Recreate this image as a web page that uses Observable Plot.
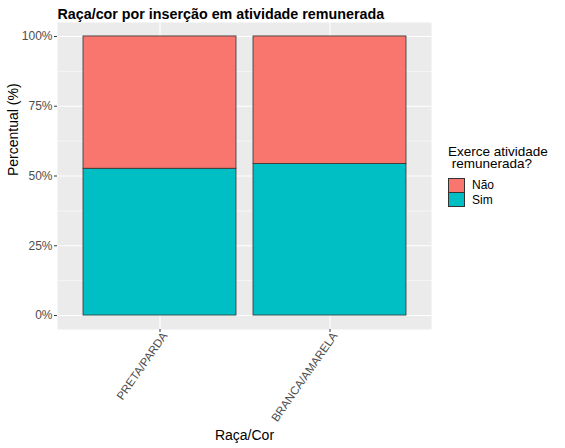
<!DOCTYPE html>
<html>
<head>
<meta charset="utf-8">
<script src="https://cdn.jsdelivr.net/npm/d3@7"></script>
<script src="https://cdn.jsdelivr.net/npm/@observablehq/plot@0.6"></script>
<style>
  body { margin: 0; background: #fff; font-family: "Liberation Sans", Arial, sans-serif; }
  #wrap { position: relative; width: 565px; height: 448px; }
  #legend { position: absolute; left: 448px; top: 146px; font-family: "Liberation Sans", Arial, sans-serif; }
  #legend .lt { font-size: 13.5px; line-height: 11.5px; color: #000; white-space: pre; }
  #legend .row { display: flex; align-items: center; height: 14.5px; }
  #legend .sw { width: 15px; height: 13px; border: 1px solid #333; box-sizing: content-box; }
  #legend .lab { font-size: 12px; color: #000; margin-left: 7px; }
</style>
</head>
<body>
<div id="wrap"></div>
<script>
const categories = ["PRETA/PARDA", "BRANCA/AMARELA"];
const groups = ["Não", "Sim"];
const simValues = [52.6, 54.3];
const naoValues = [47.4, 45.7];
const yTicks = [0, 25, 50, 75, 100];
const yMinor = [12.5, 37.5, 62.5, 87.5];
const colors = ["#F8766D", "#00BFC4"];
const title = "Raça/cor por inserção em atividade remunerada";
const xLabel = "Raça/Cor";
const yLabel = "Percentual (%)";
const legendTitle = "Exerce atividade\n remunerada?";

const data = [];
categories.forEach((c, i) => {
  data.push({cat: c, grp: "Sim", value: simValues[i]});
  data.push({cat: c, grp: "Não", value: naoValues[i]});
});

const chart = Plot.plot({
  width: 565,
  height: 448,
  marginLeft: 57,
  marginRight: 134,
  marginTop: 22,
  marginBottom: 119,
  style: {fontFamily: "'Liberation Sans', Arial, sans-serif", background: "white", overflow: "visible"},
  x: {type: "band", domain: categories, paddingInner: 0.1, paddingOuter: 0.147, label: null},
  y: {domain: [-5, 105], label: null},
  color: {domain: groups, range: colors},
  marks: [
    Plot.frame({fill: "#EBEBEB", stroke: null}),
    Plot.gridY(yMinor, {stroke: "white", strokeOpacity: 1, strokeWidth: 0.55}),
    Plot.gridY(yTicks, {stroke: "white", strokeOpacity: 1, strokeWidth: 1.1}),
    Plot.gridX(categories, {stroke: "white", strokeOpacity: 1, strokeWidth: 1.1}),
    Plot.barY(data, Plot.stackY({x: "cat", y: "value", fill: "grp", order: ["Sim", "Não"], stroke: "#333333", strokeWidth: 0.8})),
    Plot.axisY(yTicks, {tickFormat: d => d + "%", tickSize: 3, tickPadding: 2, fontSize: 12, color: "#4D4D4D", stroke: "#333333", label: null}),
    Plot.axisX({tickSize: 3, tickFormat: () => "", stroke: "#333333", label: null}),
    Plot.axisX({tickSize: 0, tickPadding: 6, tickRotate: -55, dx: 5, dy: -2, fontSize: 11.5, color: "#4D4D4D", label: null}),
    Plot.text([yLabel], {frameAnchor: "left", dx: -44, rotate: -90, fontSize: 14, fill: "black", text: d => d}),
    Plot.text([xLabel], {frameAnchor: "bottom", dy: 110, fontSize: 14, fill: "black", text: d => d}),
    Plot.text([title], {frameAnchor: "top-left", dy: -14, dx: 0, textAnchor: "start", fontSize: 14.3, fontWeight: "bold", fill: "black", text: d => d})
  ]
});

const wrap = document.getElementById("wrap");
wrap.appendChild(chart);

const color = chart.scale("color");
const leg = document.createElement("div");
leg.id = "legend";
const lt = document.createElement("div");
lt.className = "lt";
lt.textContent = legendTitle;
leg.appendChild(lt);
const keys = document.createElement("div");
keys.style.marginTop = "9px";
groups.forEach((g, i) => {
  const row = document.createElement("div");
  row.className = "row";
  const sw = document.createElement("div");
  sw.className = "sw";
  sw.style.background = color.range[i];
  const lab = document.createElement("span");
  lab.className = "lab";
  lab.textContent = g;
  row.appendChild(sw);
  row.appendChild(lab);
  keys.appendChild(row);
});
leg.appendChild(keys);
wrap.appendChild(leg);
</script>
</body>
</html>
